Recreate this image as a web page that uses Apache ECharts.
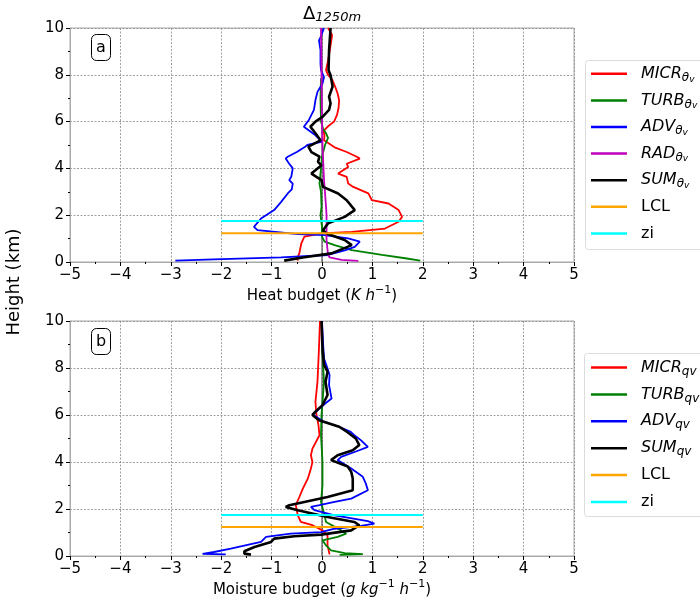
<!DOCTYPE html>
<html><head><meta charset="utf-8">
<script src="https://cdn.jsdelivr.net/npm/echarts@6/dist/echarts.min.js"></script>
<style>html,body{margin:0;padding:0;background:#fff}#c{width:700px;height:603px}</style>
</head><body><div id="c"></div>
<script>
// ---- data: [value, height_km] ----
const heatMicr = [[-0.48,0.06],[-0.49,0.16],[-0.45,0.37],[-0.41,0.8],[-0.35,1.08],[-0.01,1.22],[0.59,1.29],[1.25,1.43],[1.52,1.72],[1.59,1.93],[1.52,2.22],[1.32,2.5],[0.99,2.64],[0.92,2.93],[0.62,3.21],[0.52,3.35],[0.49,3.64],[0.32,3.78],[0.52,4.06],[0.49,4.2],[0.75,4.42],[0.69,4.5],[0.49,4.7],[0.25,4.9],[0.04,5.2],[0.05,5.4],[0.03,5.6],[0.12,5.8],[0.24,6.0],[0.3,6.3],[0.33,6.6],[0.34,6.9],[0.31,7.2],[0.26,7.5],[0.2,7.8],[0.12,8.0],[0.08,8.2],[0.12,8.6],[0.15,9.0],[0.18,9.4],[0.2,9.7],[0.12,10]];
const heatTurb = [[1.95,0.06],[1.65,0.16],[1.19,0.3],[0.59,0.51],[0.25,0.72],[0.05,0.87],[0.0,1.08],[0.0,1.5],[-0.03,2.0],[-0.01,2.36],[-0.02,3.0],[-0.05,3.35],[-0.02,4.0],[0.0,4.5],[0.06,5.0],[0.12,5.3],[0.08,5.5],[0.02,5.7],[-0.02,6.0],[-0.03,7.0],[-0.02,7.85]];
const heatAdv = [[-2.91,0.06],[-2.15,0.11],[-0.81,0.2],[0.12,0.3],[0.45,0.5],[0.65,0.65],[0.75,0.87],[0.52,1.01],[0.05,1.15],[-0.48,1.19],[-1.28,1.36],[-1.35,1.5],[-1.21,1.86],[-0.95,2.22],[-0.81,2.57],[-0.68,2.93],[-0.6,3.1],[-0.58,3.35],[-0.65,3.5],[-0.61,3.64],[-0.58,4.0],[-0.65,4.2],[-0.72,4.42],[-0.68,4.5],[-0.5,4.7],[-0.35,4.9],[-0.29,5.0],[0.0,5.14],[-0.15,5.45],[-0.36,5.78],[-0.26,6.07],[-0.16,6.5],[-0.13,6.92],[-0.09,7.27],[0.01,7.63],[0.04,7.9],[-0.02,8.2],[-0.03,8.48],[-0.03,9.05],[-0.06,9.47],[-0.03,9.6],[0.04,10]];
const heatRad = [[0.72,0.05],[0.39,0.09],[0.15,0.2],[0.12,0.3],[0.09,0.94],[0.09,2.0],[0.08,2.36],[0.04,3.5],[0.01,5.0],[0.0,6.0],[-0.01,8.0],[-0.02,10]];
const heatSum = [[-0.75,0.06],[-0.35,0.2],[0.19,0.37],[0.59,0.72],[0.45,0.94],[0.09,1.22],[0.02,1.36],[0.12,1.65],[0.45,1.93],[0.65,2.22],[0.49,2.64],[0.32,2.93],[0.02,3.21],[-0.01,3.5],[-0.21,3.78],[-0.01,4.13],[-0.08,4.28],[-0.05,4.5],[-0.21,4.7],[-0.27,4.93],[-0.03,5.2],[-0.13,5.5],[-0.23,5.78],[-0.13,6.0],[0.01,6.2],[0.14,6.5],[0.17,6.78],[0.14,7.06],[0.21,7.5],[0.17,7.98],[0.13,8.2],[0.14,9.05],[0.17,10]];

const moistMicr = [[0.15,0.07],[0.11,0.45],[0.11,0.88],[0.01,1.09],[-0.19,1.31],[-0.42,1.45],[-0.48,1.73],[-0.52,2.16],[-0.45,2.51],[-0.38,2.87],[-0.28,3.3],[-0.22,3.72],[-0.19,4.0],[-0.22,4.29],[-0.19,4.57],[-0.05,5.14],[-0.07,5.57],[-0.11,6.0],[-0.13,6.56],[-0.09,7.41],[-0.06,8.84],[-0.04,10]];
const moistTurb = [[0.35,0.05],[0.81,0.08],[0.45,0.12],[0.18,0.24],[0.08,0.45],[0.01,0.67],[0.31,0.81],[0.48,0.95],[0.38,1.09],[0.08,1.45],[0.05,1.73],[-0.02,2.3],[0.01,3.0],[0.01,4.0],[-0.02,5.14],[-0.01,6.0],[0.01,6.56],[0.04,7.41],[0.01,8.55],[0.0,8.8]];
const moistAdv = [[-1.91,0.07],[-2.37,0.09],[-2.14,0.17],[-1.81,0.31],[-1.21,0.6],[-1.11,0.81],[-0.62,0.95],[-0.02,1.02],[0.25,1.16],[0.77,1.28],[1.04,1.38],[0.91,1.48],[0.25,1.73],[-0.15,1.95],[-0.22,2.09],[-0.05,2.16],[0.25,2.3],[0.58,2.44],[0.91,2.8],[0.87,3.08],[0.81,3.37],[0.58,3.72],[0.31,4.08],[0.38,4.22],[0.74,4.5],[0.91,4.64],[0.77,4.93],[0.64,5.14],[0.57,5.28],[0.34,5.5],[0.01,5.74],[-0.18,6.02],[-0.09,6.2],[0.07,6.5],[0.19,6.7],[0.14,7.27],[0.15,7.7],[0.11,7.98],[0.04,8.4],[0.02,9.1],[0.0,10]];
const moistSum = [[-1.41,0.06],[-1.54,0.1],[-1.54,0.2],[-1.34,0.38],[-1.01,0.6],[-0.95,0.74],[-0.55,0.84],[-0.02,0.91],[0.58,1.09],[0.74,1.31],[0.64,1.45],[0.11,1.66],[-0.48,1.95],[-0.72,2.09],[-0.65,2.16],[-0.35,2.3],[0.11,2.51],[0.61,2.8],[0.61,3.3],[0.58,3.58],[0.51,3.81],[0.18,4.08],[0.31,4.29],[0.61,4.5],[0.74,4.72],[0.67,5.0],[0.5,5.28],[0.34,5.5],[-0.06,5.78],[-0.19,6.0],[-0.13,6.14],[0.01,6.42],[0.11,6.85],[0.07,7.41],[0.11,7.84],[0.04,8.13],[0.01,8.84],[-0.01,10]];

const lclHeight = 1.23;
const ziHeight = 1.75;
const refSpan = [-2, 2];
const xTicks = [-5, 5, 1];
const yTicks = [0, 10, 2];
const heatNames = ['MICR_th','TURB_th','ADV_th','RAD_th','SUM_th','LCL','zi'];
const moistNames = ['MICR_qv','TURB_qv','ADV_qv','SUM_qv','LCL','zi'];

const FONT = 'DejaVu Sans';
const C = {micr:'#ff0000', turb:'#008000', adv:'#0000ff', rad:'#bf00bf', sum:'#000000', lcl:'#ffa500', zi:'#00ffff'};

const richAxis = {
  n:{fontFamily:FONT, fontSize:15, color:'#000', lineHeight:22},
  m:{fontFamily:FONT, fontSize:15, fontStyle:'italic', color:'#000', lineHeight:22},
  p:{fontFamily:FONT, fontSize:11, color:'#000', verticalAlign:'top', lineHeight:12}
};
function xAx(idx, name) {
  return {
    type:'value', gridIndex:idx, min:xTicks[0], max:xTicks[1], interval:xTicks[2],
    name:name, nameLocation:'middle', nameGap:23,
    nameTextStyle:{fontFamily:FONT, fontSize:15, color:'#000', rich:richAxis},
    axisLine:{show:true, onZero:false, lineStyle:{color:'#aaa', width:1}},
    axisTick:{show:true, length:4, lineStyle:{color:'#000', width:1}},
    minorTick:{show:true, splitNumber:2, length:2, lineStyle:{color:'#000', width:1}},
    axisLabel:{fontFamily:FONT, fontSize:15, color:'#000', margin:6,
      formatter:v=> (v<0?'\u2212'+Math.abs(v):''+v)},
    splitLine:{show:true, lineStyle:{type:[2,1.5], color:'#888', width:0.8}}
  };
}
function yAx(idx) {
  return {
    type:'value', gridIndex:idx, min:yTicks[0], max:yTicks[1], interval:yTicks[2],
    axisLine:{show:true, onZero:false, lineStyle:{color:'#aaa', width:1}},
    axisTick:{show:true, length:4, lineStyle:{color:'#000', width:1}},
    minorTick:{show:true, splitNumber:2, length:2, lineStyle:{color:'#000', width:1}},
    axisLabel:{fontFamily:FONT, fontSize:15, color:'#000', margin:6},
    splitLine:{show:true, lineStyle:{type:[2,1.5], color:'#888', width:0.8}}
  };
}

function line(name, data, color, width, gi, z) {
  return {type:'line', name:name, data:data, xAxisIndex:gi, yAxisIndex:gi,
    symbol:'none', showSymbol:false, smooth:false, animation:false, z:z||2,
    lineStyle:{color:color, width:width}, itemStyle:{color:color}};
}
function hline(name, h, color, gi) {
  return line(name, [[refSpan[0],h],[refSpan[1],h]], color, 2, gi, 3);
}
function zeroLine(gi) {
  return {type:'line', data:[[0,yTicks[0]],[0,yTicks[1]]], xAxisIndex:gi, yAxisIndex:gi,
    symbol:'none', silent:true, animation:false, z:1, lineStyle:{color:'#333', width:1}};
}

const legendRich = {
  g:{width:9, height:20},
  i:{fontFamily:FONT, fontSize:16, fontStyle:'italic', color:'#000', lineHeight:20},
  s:{fontFamily:FONT, fontSize:12, fontStyle:'italic', color:'#000', lineHeight:10, verticalAlign:'bottom'},
  t:{fontFamily:FONT, fontSize:9, fontStyle:'italic', color:'#000', lineHeight:5, verticalAlign:'bottom'},
  r:{fontFamily:FONT, fontSize:16, color:'#000', lineHeight:20}
};
function legendFmt(name) {
  const parts = name.split('_');
  if (parts.length === 1) return '{g|}{r|' + name + '}';
  if (parts[1] === 'th') return '{g|}{i|' + parts[0] + '}{s|\u03b8}{t|v}';
  return '{g|}{i|' + parts[0] + '}{s|qv}';
}
function legends(firstCenter, step, names) {
  return names.map((n, k) => ({
    orient:'vertical', left:591, top:firstCenter + k*step - 7.5, data:[{name:n, icon:'rect'}],
    itemWidth:36, itemHeight:2.5, itemGap:0, padding:0,
    formatter:legendFmt, textStyle:{rich:legendRich}, selectedMode:false}));
}

const chart = echarts.init(document.getElementById('c'), null, {renderer:'canvas'});
chart.setOption({
  animation:false,
  backgroundColor:'#fff',
  title:[
    {text:'{d|\u0394}{s|1250m}', left:298, top:-1,
     textStyle:{fontWeight:'normal', rich:{d:{fontFamily:FONT, fontSize:18, fontWeight:'normal', color:'#000', lineHeight:20},
                      s:{fontFamily:FONT, fontSize:13, fontStyle:'italic', fontWeight:'normal', color:'#000', lineHeight:12, verticalAlign:'bottom'}}}},
    {text:'a', left:91, top:34, padding:[4,5], borderColor:'#000', borderWidth:1, borderRadius:5,
     textStyle:{fontFamily:FONT, fontSize:16, fontWeight:'normal', color:'#000', lineHeight:19}},
    {text:'b', left:91, top:328, padding:[4,5], borderColor:'#000', borderWidth:1, borderRadius:5,
     textStyle:{fontFamily:FONT, fontSize:16, fontWeight:'normal', color:'#000', lineHeight:19}}
  ],
  graphic:[
    {type:'text', x:5, y:282, rotation:Math.PI/2,
     style:{text:'Height (km)', fontFamily:FONT, fontSize:18, fill:'#000', align:'center', verticalAlign:'top'}},
    {type:'rect', shape:{x:585.5, y:60.5, width:130, height:189, r:3}, z:-1,
     style:{fill:'#fff', stroke:'#dcdcdc', lineWidth:1}},
    {type:'rect', shape:{x:584.5, y:353.5, width:130, height:163, r:3}, z:-1,
     style:{fill:'#fff', stroke:'#dcdcdc', lineWidth:1}}
  ],
  grid:[
    {left:70, right:126, top:28, height:234, show:true, borderColor:'#aaa', borderWidth:1, outerBoundsMode:'none', containLabel:false},
    {left:70, right:126, top:321, height:235, show:true, borderColor:'#aaa', borderWidth:1, outerBoundsMode:'none', containLabel:false}
  ],
  xAxis:[xAx(0,'{n|Heat budget (}{m|K h}{p|\u22121}{n|)}'),
         xAx(1,'{n|Moisture budget (}{m|g kg}{p|\u22121}{m| h}{p|\u22121}{n|)}')],
  yAxis:[yAx(0), yAx(1)],
  legend: legends(73.3, 26.6, heatNames).concat(legends(367, 26.9, moistNames)),
  series:[
    zeroLine(0),
    line('MICR_th', heatMicr, C.micr, 1.8, 0),
    line('TURB_th', heatTurb, C.turb, 1.8, 0),
    line('ADV_th', heatAdv, C.adv, 1.8, 0),
    line('RAD_th', heatRad, C.rad, 1.8, 0),
    line('SUM_th', heatSum, C.sum, 2.6, 0),
    hline('LCL', lclHeight, C.lcl, 0),
    hline('zi', ziHeight, C.zi, 0),
    zeroLine(1),
    line('MICR_qv', moistMicr, C.micr, 1.8, 1),
    line('TURB_qv', moistTurb, C.turb, 1.8, 1),
    line('ADV_qv', moistAdv, C.adv, 1.8, 1),
    line('SUM_qv', moistSum, C.sum, 2.6, 1),
    hline('LCL', lclHeight, C.lcl, 1),
    hline('zi', ziHeight, C.zi, 1)
  ]
});
</script></body></html>
